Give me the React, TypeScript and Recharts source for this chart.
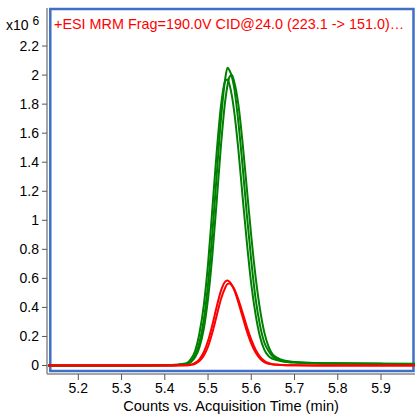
import React from 'react'
import { LineChart, Line, XAxis, YAxis, ReferenceArea } from 'recharts';

// acquisition time (min)
const times = [5.13, 5.2, 5.3, 5.4, 5.43, 5.45, 5.46, 5.47, 5.48, 5.49, 5.5, 5.51, 5.52, 5.53, 5.54, 5.545, 5.55, 5.555, 5.56, 5.57, 5.58, 5.59, 5.6, 5.61, 5.62, 5.63, 5.64, 5.65, 5.67, 5.7, 5.75, 5.8, 5.9, 5.978];

// counts (x10^6)
const green1 = [0, 0, 0, 0.001, 0.004, 0.01, 0.028, 0.069, 0.156, 0.31, 0.56, 0.91, 1.31, 1.7, 1.98, 2.05, 2.03, 1.99, 1.92, 1.68, 1.37, 1.03, 0.72, 0.46, 0.28, 0.16, 0.1, 0.06, 0.035, 0.022, 0.016, 0.014, 0.012, 0.011];
const green2 = [0, 0, 0, 0.002, 0.007, 0.016, 0.043, 0.1, 0.22, 0.41, 0.7, 1.08, 1.47, 1.79, 1.96, 1.97, 1.93, 1.86, 1.76, 1.49, 1.16, 0.84, 0.56, 0.35, 0.2, 0.11, 0.065, 0.045, 0.03, 0.02, 0.015, 0.013, 0.011, 0.01];
const green3 = [0, 0, 0, 0.001, 0.003, 0.008, 0.022, 0.056, 0.125, 0.25, 0.46, 0.76, 1.13, 1.52, 1.83, 1.93, 1.99, 2.0, 1.96, 1.8, 1.53, 1.21, 0.89, 0.61, 0.39, 0.23, 0.13, 0.075, 0.04, 0.024, 0.017, 0.015, 0.013, 0.012];
const red1 = [0, 0, 0, 0, 0.001, 0.002, 0.006, 0.018, 0.043, 0.091, 0.17, 0.28, 0.405, 0.516, 0.579, 0.585, 0.576, 0.555, 0.524, 0.436, 0.334, 0.234, 0.15, 0.089, 0.048, 0.024, 0.012, 0.007, 0.003, 0.001, 0, 0, 0, 0];
const red2 = [0, 0, 0, 0, 0, 0.001, 0.004, 0.012, 0.031, 0.068, 0.13, 0.227, 0.343, 0.458, 0.537, 0.562, 0.564, 0.552, 0.531, 0.456, 0.363, 0.264, 0.178, 0.109, 0.062, 0.033, 0.017, 0.009, 0.004, 0.001, 0, 0, 0, 0];

const xTicks = [5.2, 5.3, 5.4, 5.5, 5.6, 5.7, 5.8, 5.9];
const yTicks = [0, 0.2, 0.4, 0.6, 0.8, 1, 1.2, 1.4, 1.6, 1.8, 2, 2.2];

const data = times.map((t, i) => ({
  t,
  g1: green1[i],
  g2: green2[i],
  g3: green3[i],
  r1: red1[i],
  r2: red2[i],
}));

const font = '"Liberation Sans", Arial, sans-serif';

const App = () => {
  return (
    <div style={{ position: 'absolute', left: 0, top: 0, width: 416, height: 414, background: '#fff', fontFamily: font }}>
      <LineChart width={416} height={414} data={data} margin={{ top: 8, right: 1, left: 0, bottom: 0 }}>
        <XAxis
          dataKey="t"
          type="number"
          domain={[5.1276, 5.9786]}
          ticks={xTicks}
          allowDataOverflow
          height={40}
          tickSize={6}
          tickMargin={3}
          tick={{ fill: '#000', fontSize: 14, fontFamily: font }}
          tickLine={{ stroke: '#555' }}
          axisLine={{ stroke: '#888', strokeWidth: 1.5 }}
          tickFormatter={(v: number) => v.toFixed(1)}
          label={{ value: 'Counts vs. Acquisition Time (min)', position: 'insideBottom', offset: 3, fill: '#000', fontSize: 14.6, fontFamily: font }}
        />
        <YAxis
          type="number"
          domain={[-0.0585, 2.462]}
          ticks={yTicks}
          allowDataOverflow
          width={47}
          tickSize={5}
          tickMargin={3}
          tick={{ fill: '#000', fontSize: 14, fontFamily: font }}
          tickLine={{ stroke: '#555' }}
          axisLine={{ stroke: '#888', strokeWidth: 1.5 }}
        />
        <Line type="monotone" dataKey="g2" stroke="#008000" strokeWidth={2} dot={false} isAnimationActive={false} />
        <Line type="monotone" dataKey="g3" stroke="#008000" strokeWidth={2} dot={false} isAnimationActive={false} />
        <Line type="monotone" dataKey="g1" stroke="#008000" strokeWidth={2} dot={false} isAnimationActive={false} />
        <Line type="monotone" dataKey="r2" stroke="#ff0000" strokeWidth={2} dot={false} isAnimationActive={false} />
        <Line type="monotone" dataKey="r1" stroke="#ff0000" strokeWidth={2} dot={false} isAnimationActive={false} />
        <ReferenceArea x1={5.1352} x2={5.9751} y1={-0.0379} y2={2.455} fill="none" stroke="#3f6fc8" strokeWidth={2.5} ifOverflow="visible" />
      </LineChart>
      <div style={{ position: 'absolute', left: 6, top: 17, fontSize: 14, color: '#000', whiteSpace: 'nowrap' }}>
        x10 <span style={{ position: 'relative', top: -5, fontSize: 12 }}>6</span>
      </div>
      <div style={{ position: 'absolute', left: 54, top: 16, fontSize: 14.4, color: '#ff0000', whiteSpace: 'nowrap' }}>
        +ESI MRM Frag=190.0V CID@24.0 (223.1 -&gt; 151.0)…
      </div>
    </div>
  )
}

export default App
